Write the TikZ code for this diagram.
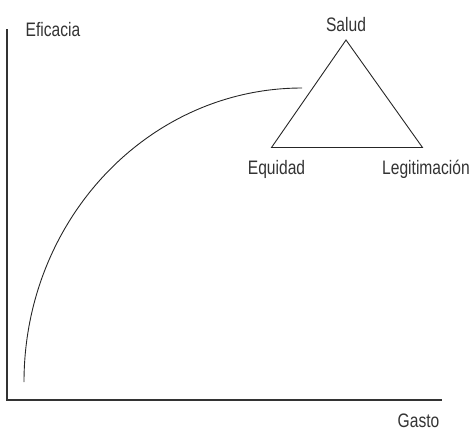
\documentclass[tikz,border=0pt]{standalone}
\usepackage{fontspec}
\setmainfont{Liberation Sans}[FakeStretch=0.8]
\usetikzlibrary{calc}

\begin{document}
\begin{tikzpicture}[x=1pt, y=-1pt,
    lbl/.style={anchor=base, inner sep=0pt, text=black!80, font=\fontsize{19.5}{21}\selectfont},
    axis/.style={draw=black!80, line width=1.1pt},
    tri/.style={draw=black!85, line width=0.9pt, line join=miter}]
      \useasboundingbox (0,0) rectangle (476,432);

      % axes
      \coordinate (o) at (7,400);
      \coordinate (ytop) at (7,29);
      \coordinate (xend) at (442,400);
      \draw[axis] (ytop) -- (o) -- (xend);
      \node[lbl] (eficacia) at (53,36) {Eficacia};
      \node[lbl] (gasto) at (418.5,427) {Gasto};

      % triangle
      \coordinate (s) at (346,40);
      \coordinate (e) at (271.5,147.5);
      \coordinate (l) at (422.5,147.5);
      \draw[tri] (s) -- (e) -- (l) -- cycle;
      \node[lbl] (salud) at (346,31) {Salud};
      \node[lbl] (equidad) at (276.5,174) {Equidad};
      \node[lbl] (legit) at (426,174) {Legitimación};

      % curve
      \coordinate (c0) at (24,382);
      \coordinate (c1) at (302,88);
      \draw[black!85, line width=0.9pt] (c0) .. controls (24,219.6) and (148.5,88) .. (c1);
    \end{tikzpicture}
\end{document}
